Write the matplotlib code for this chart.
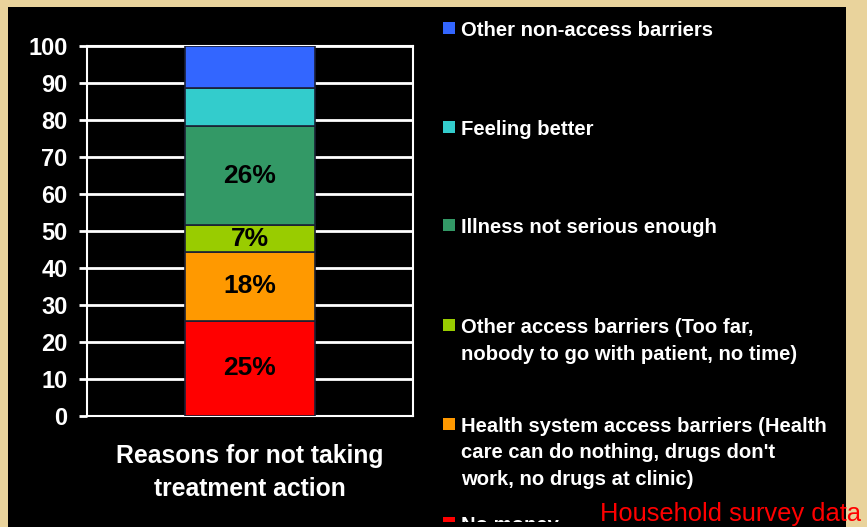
import matplotlib
matplotlib.use("Agg")
import matplotlib.pyplot as plt
from matplotlib.patches import Rectangle
from matplotlib.transforms import Bbox, TransformedBbox

plt.rcParams['font.family'] = ['Liberation Sans', 'DejaVu Sans']

# stacked segments, bottom to top
reasons = ["No money",
           "Health system access barriers (Health\ncare can do nothing, drugs don't\nwork, no drugs at clinic)",
           "Other access barriers (Too far,\nnobody to go with patient, no time)",
           "Illness not serious enough",
           "Feeling better",
           "Other non-access barriers"]
pct = [25, 18, 7, 26, 10, 11]
show_label = [True, True, True, True, False, False]
colors = ["#FF0000", "#FF9900", "#99CC00", "#339966", "#33CCCC", "#3366FF"]

W, H = 867, 527
fig = plt.figure(figsize=(W / 100, H / 100), dpi=100, facecolor="#E9D39C")

# black slide panel
fig.patches.append(Rectangle((8 / W, 0), (846 - 8) / W, (H - 7) / H,
                             transform=fig.transFigure, facecolor="black",
                             edgecolor="none", zorder=-5))

ax = fig.add_axes([87 / W, (H - 416) / H, (413 - 87) / W, 370 / H])
ax.set_facecolor("black")

# 100% stacked column
total = sum(pct)
bottom = 0
for v, c, lab in zip(pct, colors, show_label):
    h = v / total * 100
    ax.bar(0, h, width=0.4, bottom=bottom, color=c, edgecolor="#1a1f33",
           linewidth=1.2, zorder=3)
    if lab:
        ax.text(0, bottom + h / 2, f"{v}%", ha="center", va="center",
                fontsize=19, fontweight="bold", color="black", zorder=4)
    bottom += h

ax.set_xlim(-0.5, 0.5)
ax.set_ylim(0, 100)
ax.set_yticks(range(0, 101, 10))
ax.set_xticks([])
ax.yaxis.grid(True, color="white", linewidth=2, zorder=1)
ax.set_axisbelow(True)
for s in ax.spines.values():
    s.set_color("white")
    s.set_linewidth(1.5)
ax.tick_params(axis="y", colors="white", length=6, width=2, pad=8,
               labelsize=17)
for t in ax.get_yticklabels():
    t.set_fontweight("bold")

ax.set_xlabel("Reasons for not taking\ntreatment action", color="white",
              fontsize=17.8, fontweight="bold", linespacing=1.5, labelpad=20)

# legend down the right side, top item first
clip = TransformedBbox(Bbox([[0, 5 / H], [1, 1]]), fig.transFigure)
centers = [28, 127, 225, 325, 424, 523]
for lab, c, yc in zip(reasons[::-1], colors[::-1], centers):
    sq = Rectangle((443 / W, (H - yc - 6) / H), 12 / W, 12 / H,
                   transform=fig.transFigure, facecolor=c, edgecolor="none")
    sq.set_clip_box(clip)
    fig.patches.append(sq)
    t = fig.text(461 / W, (H - yc + 7) / H, lab, color="white", fontsize=14.6,
                 fontweight="bold", va="top", ha="left", linespacing=1.5)
    t.set_clip_box(clip)
    t.set_clip_on(True)

fig.text(600 / W, (H - 521) / H, "Household survey data", color="#FF0000",
         fontsize=18.4, va="baseline", ha="left")

fig.savefig("out.png", dpi=100, facecolor=fig.get_facecolor())
